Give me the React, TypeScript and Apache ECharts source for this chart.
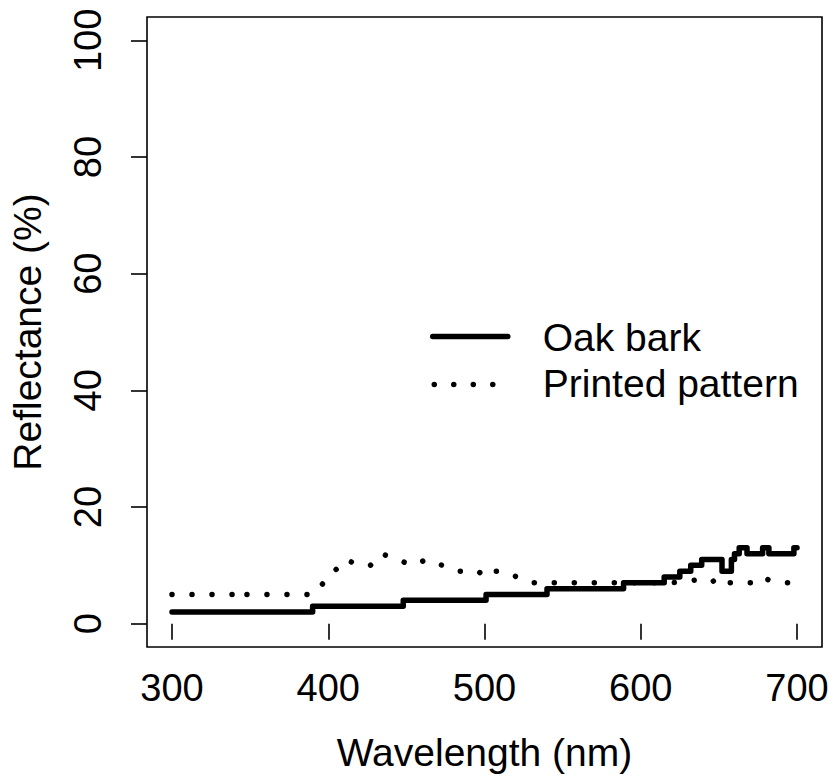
import React, { useEffect, useRef } from "react";
import * as echarts from "echarts";

// Reflectance spectra: oak bark (step line) and the printed pattern (dotted line)
const wavelengthTicks = [300, 400, 500, 600, 700];
const reflectanceTicks = [0, 20, 40, 60, 80, 100];

// [wavelength nm, reflectance %] — value holds until the next wavelength
const oakBark: [number, number][] = [
  [300, 2], [390, 3], [448, 4], [501, 5], [540, 6], [589, 7], [615, 8],
  [625, 9], [632, 10], [639, 11], [652, 9], [658, 11], [660, 12], [663, 13],
  [668, 12], [678, 13], [682, 12], [698, 13], [700, 13],
];

const printedPattern: [number, number][] = [
  [300, 5], [340, 5], [343, 4], [347, 5], [390, 5], [411, 11], [420, 10],
  [427, 10], [434, 12], [444, 11], [454, 10], [463, 11], [473, 10], [483, 9],
  [496, 9], [500, 8], [506, 9], [511, 9], [521, 8], [531, 7], [620, 7],
  [636, 7.5], [645, 7], [650, 8], [656, 7], [672, 7], [677, 8], [682, 7.5],
  [690, 7], [700, 7],
];

const seriesNames = ["Oak bark", "Printed pattern"];

const FONT = "'Liberation Sans', Arial, Helvetica, sans-serif";

export default function App() {
  const ref = useRef<HTMLDivElement>(null);

  useEffect(() => {
    if (!ref.current) return;
    const chart = echarts.init(ref.current, undefined, { renderer: "svg" });
    const dotted = { width: 5.5, color: "#000", type: [0.01, 20] as number[], cap: "round" as const };

    chart.setOption({
      animation: false,
      backgroundColor: "#fff",
      textStyle: { fontFamily: FONT, color: "#000" },
      grid: {
        left: 144,
        right: 11,
        top: 17,
        bottom: 131,
        show: true,
        borderColor: "#000",
        borderWidth: 1.6,
        backgroundColor: "transparent",
      },
      xAxis: {
        type: "value",
        min: 284,
        max: 716,
        name: "Wavelength (nm)",
        nameLocation: "middle",
        nameGap: 86,
        nameTextStyle: { fontSize: 39, color: "#000", fontFamily: FONT },
        axisLine: { show: false },
        axisTick: {
          show: true,
          customValues: wavelengthTicks,
          length: 16,
          lineStyle: { color: "#000", width: 1.6 },
        },
        axisLabel: {
          customValues: wavelengthTicks,
          fontSize: 38,
          color: "#000",
          margin: 22,
          fontFamily: FONT,
        },
        splitLine: { show: false },
      },
      yAxis: {
        type: "value",
        min: -4,
        max: 104,
        name: "Reflectance (%)",
        nameLocation: "middle",
        nameGap: 100,
        nameTextStyle: { fontSize: 39, color: "#000", fontFamily: FONT },
        axisLine: { show: false },
        axisTick: {
          show: true,
          customValues: reflectanceTicks,
          length: 16,
          lineStyle: { color: "#000", width: 1.6 },
        },
        axisLabel: {
          customValues: reflectanceTicks,
          rotate: 90,
          fontSize: 38,
          color: "#000",
          margin: 40,
          fontFamily: FONT,
        },
        splitLine: { show: false },
      },
      series: [
        {
          name: seriesNames[0],
          type: "line",
          step: "end",
          data: oakBark,
          showSymbol: false,
          symbol: "none",
          lineStyle: { width: 5.5, color: "#000", cap: "round", join: "round" },
          z: 3,
        },
        {
          name: seriesNames[1],
          type: "line",
          data: printedPattern,
          showSymbol: false,
          symbol: "none",
          lineStyle: dotted,
          z: 2,
        },
      ],
      graphic: [
        {
          type: "group",
          left: 430,
          top: 318,
          children: [
            {
              type: "line",
              shape: { x1: 0, y1: 15, x2: 75, y2: 15 },
              style: { stroke: "#000", lineWidth: 5.5, lineCap: "round" },
            },
            {
              type: "text",
              x: 110,
              y: 16,
              style: {
                text: seriesNames[0],
                font: `39px ${FONT}`,
                fill: "#000",
                verticalAlign: "middle",
              },
            },
            {
              type: "line",
              shape: { x1: 1.5, y1: 63, x2: 62, y2: 63 },
              style: { stroke: "#000", lineWidth: 5.5, lineCap: "round", lineDash: [0.01, 19.5] },
            },
            {
              type: "text",
              x: 110,
              y: 62,
              style: {
                text: seriesNames[1],
                font: `39px ${FONT}`,
                fill: "#000",
                verticalAlign: "middle",
              },
            },
          ],
        },
      ],
    });

    return () => chart.dispose();
  }, []);

  return (
    <div
      ref={ref}
      style={{ position: "fixed", left: 0, top: 0, width: 833, height: 778, background: "#fff" }}
    />
  );
}
